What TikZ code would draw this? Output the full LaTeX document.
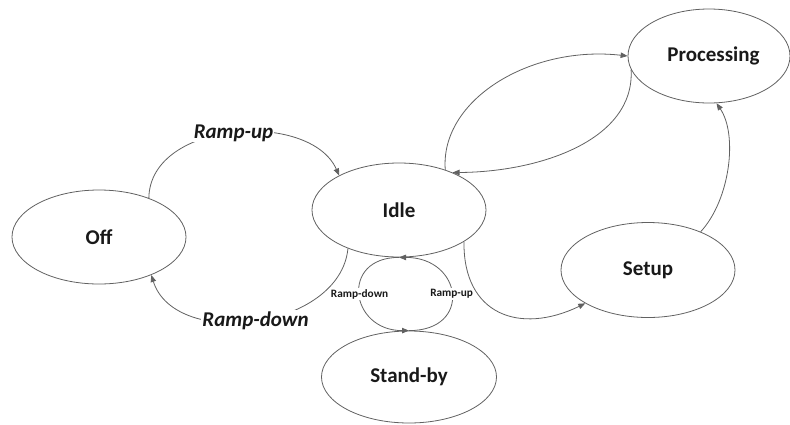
\documentclass[tikz,border=0pt]{standalone}
\usepackage{fontspec}
\setmainfont{Carlito}
\usetikzlibrary{shapes.geometric,arrows.meta}
\begin{document}
\begin{tikzpicture}[x=1pt,y=-1pt,
  state/.style={ellipse,draw=black!62,line width=0.8pt,inner sep=0pt,
    font=\fontsize{21}{25}\selectfont\bfseries,text=black!90},
  flow/.style={draw=black!62,line width=0.8pt,-{Triangle[length=7pt,width=5.5pt]}},
  biglabel/.style={fill=white,inner sep=1pt,text=black!90,
    font=\fontsize{21}{25}\selectfont\bfseries\itshape},
  smalllabel/.style={fill=white,inner sep=1pt,text=black!90,
    font=\fontsize{11.3}{13}\selectfont\bfseries}]
\useasboundingbox (0,0) rectangle (790,424);

% states of the machine
\node[state,minimum width=174pt,minimum height=94pt] (off)   at (99,237)  {Off};
\node[state,minimum width=174pt,minimum height=94pt] (idle)  at (399,210) {Idle};
\node[state,minimum width=162pt,minimum height=94pt] (proc)  at (709,56)  {\hspace*{9pt}Processing};
\node[state,minimum width=174pt,minimum height=95pt] (setup) at (648,270) {Setup};
\node[state,minimum width=175pt,minimum height=92pt] (stand) at (409,377) {Stand-by};

% Off <-> Idle
\draw[flow] (off.38) .. controls (150,120) and (310,110) .. node[biglabel]{Ramp-up} (idle.150);
\draw[flow] (idle.217) .. controls (340,330) and (175,350) .. node[biglabel]{Ramp-down} (off.-36);

% Idle <-> Stand-by loop
\draw[flow] (idle.south) to[out=180,in=180,looseness=2.05] node[smalllabel]{Ramp-down} (stand.north);
\draw[flow] (stand.north) to[out=0,in=0,looseness=2.2] node[smalllabel]{Ramp-up} (idle.south);

% Idle -> Setup -> Processing
\draw[flow] (idle.-26) .. controls (463,315) and (520,335) .. (setup.208);
\draw[flow] (setup.36) .. controls (730,200) and (738,135) .. (proc.-81);

% Idle <-> Processing
\draw[flow] (idle.41) .. controls (440,100) and (530,45) .. (proc.west);
\draw[flow] (proc.190) .. controls (635,140) and (540,172) .. (idle.35);
\end{tikzpicture}
\end{document}
